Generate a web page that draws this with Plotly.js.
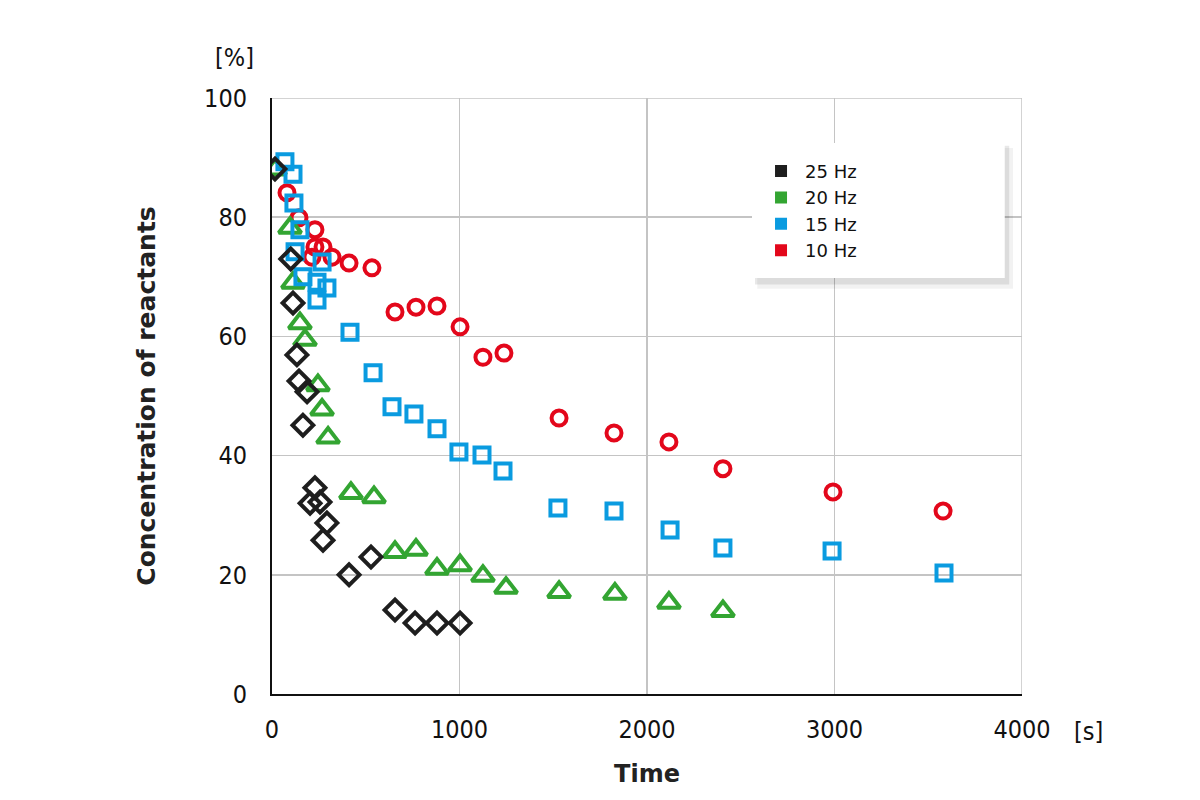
<!DOCTYPE html>
<html>
<head>
<meta charset="utf-8">
<script src="https://cdn.plot.ly/plotly-3.0.1.min.js"></script>
<style>html,body{margin:0;padding:0;background:#fff;}#chart{width:1200px;height:800px;}</style>
</head>
<body>
<div id="chart"></div>
<script>
// 25 Hz (black diamonds)
const t25 = [16, 100, 112, 133, 144, 187, 165, 229, 203, 256, 293, 272, 411, 528, 656, 763, 880, 1003];
const c25 = [88.1, 73.0, 65.6, 56.9, 52.5, 50.7, 45.1, 34.6, 32.0, 32.2, 28.7, 25.8, 20.0, 23.0, 14.1, 11.9, 11.9, 11.9];
// 20 Hz (green triangles)
const t20 = [16, 96, 112, 149, 176, 245, 267, 299, 421, 544, 656, 768, 880, 1003, 1125, 1248, 1531, 1829, 2117, 2405];
const c20 = [88.0, 78.2, 69.0, 62.2, 59.4, 51.8, 47.7, 43.0, 33.7, 33.0, 23.8, 24.2, 21.0, 21.6, 19.8, 17.8, 17.1, 16.8, 15.3, 13.9];
// 15 Hz (blue squares)
const t15 = [69, 112, 117, 149, 123, 267, 165, 240, 293, 240, 416, 539, 640, 757, 880, 997, 1120, 1232, 1525, 1824, 2123, 2405, 2987, 3584];
const c15 = [89.3, 87.2, 82.4, 77.9, 74.2, 72.5, 70.0, 69.1, 68.1, 66.1, 60.7, 53.9, 48.2, 47.0, 44.5, 40.6, 40.1, 37.4, 31.2, 30.7, 27.5, 24.5, 24.0, 20.3];
// 10 Hz (red circles)
const t10 = [80, 144, 229, 229, 272, 213, 320, 411, 533, 656, 768, 880, 1003, 1125, 1237, 1531, 1824, 2117, 2405, 2992, 3579];
const c10 = [84.1, 79.9, 77.9, 75.0, 75.0, 73.3, 73.3, 72.3, 71.5, 64.1, 64.9, 65.1, 61.6, 56.5, 57.2, 46.3, 43.8, 42.3, 37.8, 33.9, 30.7];

const seriesNames = ['25 Hz', '20 Hz', '15 Hz', '10 Hz'];
const xTicks = [0, 1000, 2000, 3000, 4000];
const yTicks = [0, 20, 40, 60, 80, 100];

const colBlack = '#1e1e1e', colGreen = '#33a532', colBlue = '#0a9be0', colRed = '#e3071b';

function pts(x, y, sym, size, col) {
  return {x: x, y: y, type: 'scatter', mode: 'markers', showlegend: false, hoverinfo: 'skip',
    marker: {symbol: sym, size: size, color: 'rgba(255,255,255,0)', line: {color: col, width: 4}}};
}
function leg(name, col) {
  return {x: [null], y: [null], type: 'scatter', mode: 'markers', name: name, showlegend: true,
    marker: {symbol: 'square', size: 12, color: col, line: {width: 0}}};
}

const data = [
  pts(t10, c10, 'circle', 15, colRed),
  pts(t20, c20, 'triangle-up', 19.5, colGreen),
  pts(t15, c15, 'square', 15, colBlue),
  pts(t25, c25, 'diamond', 16, colBlack),
  leg(seriesNames[0], colBlack),
  leg(seriesNames[1], colGreen),
  leg(seriesNames[2], colBlue),
  leg(seriesNames[3], colRed)
];

const font = 'DejaVu Sans, Verdana, sans-serif';
const tickFont = 'DejaVu Sans Condensed, DejaVu Sans, sans-serif';
const layout = {
  width: 1200, height: 800,
  margin: {l: 272, r: 178, t: 98, b: 106},
  paper_bgcolor: '#fff', plot_bgcolor: '#fff',
  font: {family: font, size: 20, color: '#111'},
  showlegend: true,
  legend: {x: 0.6467, y: 0.908, xanchor: 'left', yanchor: 'top', bgcolor: 'rgba(255,255,255,0)',
    font: {family: font, size: 18, color: '#111'}, traceorder: 'normal', itemwidth: 38,
    itemsizing: 'constant', tracegroupgap: 0, borderwidth: 0},
  xaxis: {range: [0, 4000], tickvals: xTicks, ticktext: xTicks.map(String), ticks: '',
    showgrid: true, gridcolor: '#c4c4c4', gridwidth: 1.5, zeroline: false,
    showline: true, linecolor: '#111', linewidth: 2, ticklen: 0, ticklabelstandoff: 12,
    tickfont: {family: tickFont, size: 25, color: '#111'},
    title: {text: '<b>Time</b>', font: {family: font, size: 24, color: '#222'}, standoff: 22}},
  yaxis: {range: [0, 100], tickvals: yTicks, ticktext: yTicks.map(String), ticks: '',
    showgrid: true, gridcolor: '#c4c4c4', gridwidth: 1.5, zeroline: false,
    showline: true, linecolor: '#111', linewidth: 2, ticklen: 0, ticklabelstandoff: 18,
    tickfont: {family: tickFont, size: 25, color: '#111'},
    title: {text: '<b>Concentration of reactants</b>', font: {family: font, size: 25, color: '#222'}, standoff: 41}},
  shapes: [
    {type: 'line', xref: 'x', yref: 'y', x0: 0, x1: 4000, y0: 100, y1: 100, line: {color: '#c4c4c4', width: 1.5}, layer: 'below'},
    {type: 'line', xref: 'x', yref: 'y', x0: 4000, x1: 4000, y0: 0, y1: 100, line: {color: '#c4c4c4', width: 1.5}, layer: 'below'},
    {type: 'rect', xref: 'paper', yref: 'paper', x0: 0.647, x1: 0.988, y0: 0.68, y1: 0.916, fillcolor: 'rgba(0,0,0,0.05)', line: {width: 0}, layer: 'above'},
    {type: 'rect', xref: 'paper', yref: 'paper', x0: 0.644, x1: 0.983, y0: 0.687, y1: 0.92, fillcolor: 'rgba(0,0,0,0.09)', line: {width: 0}, layer: 'above'},
    {type: 'rect', xref: 'paper', yref: 'paper', x0: 0.64, x1: 0.977, y0: 0.698, y1: 0.9245, fillcolor: '#fff', line: {width: 0}, layer: 'above'}
  ],
  annotations: [
    {text: '[%]', xref: 'paper', yref: 'paper', x: -0.05, y: 1.04, xanchor: 'center', yanchor: 'bottom', showarrow: false, font: {family: tickFont, size: 25, color: '#111'}},
    {text: '[s]', xref: 'paper', yref: 'paper', x: 1.088, y: -0.063, xanchor: 'center', yanchor: 'middle', showarrow: false, font: {family: tickFont, size: 25, color: '#111'}}
  ]
};

Plotly.newPlot('chart', data, layout, {displayModeBar: false, staticPlot: true});
</script>
</body>
</html>
